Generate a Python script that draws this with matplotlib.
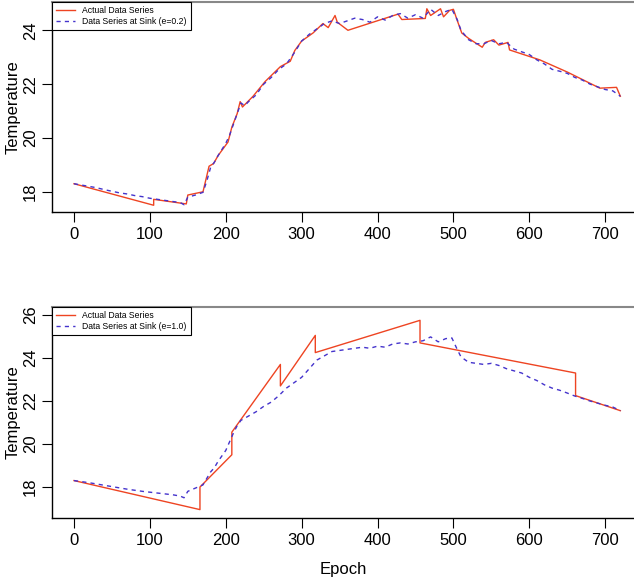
import matplotlib.pyplot as plt
import matplotlib

# R-ish look: Helvetica-like font
matplotlib.rcParams['font.family'] = 'Liberation Sans'

sink_epoch = [0, 10, 20, 30, 40, 50, 60, 70, 80, 90, 100, 110, 120, 130, 140, 145,
              150, 160, 170, 175, 180, 185, 190, 200, 205, 210, 215, 220, 225, 230,
              240, 250, 260, 270, 280, 290, 300, 310, 320, 330, 340, 350, 360, 370,
              380, 390, 400, 410, 420, 430, 440, 450, 460, 470, 480, 490, 498, 505,
              510, 520, 530, 540, 550, 560, 570, 580, 590, 600, 610, 620, 630, 640,
              650, 660, 670, 680, 690, 700, 710, 720]

# data series at sink, top panel (e=0.2)
sink1_temp = [18.30, 18.25, 18.20, 18.15, 18.08, 18.02, 17.96, 17.92, 17.86, 17.82,
              17.76, 17.72, 17.68, 17.64, 17.60, 17.52, 17.80, 17.88, 17.98, 18.40,
              18.90, 19.10, 19.35, 19.80, 20.10, 20.50, 20.90, 21.30, 21.20, 21.35,
              21.60, 22.00, 22.25, 22.55, 22.75, 23.15, 23.60, 23.85, 24.05, 24.25,
              24.35, 24.25, 24.35, 24.45, 24.40, 24.30, 24.50, 24.38, 24.55, 24.62,
              24.45, 24.58, 24.45, 24.78, 24.55, 24.70, 24.78, 24.40, 24.00, 23.65,
              23.50, 23.50, 23.62, 23.50, 23.55, 23.30, 23.20, 23.10, 22.90, 22.75,
              22.55, 22.48, 22.40, 22.25, 22.15, 22.00, 21.90, 21.80, 21.75, 21.55]

# data series at sink, bottom panel (e=1.0)
sink2_temp = [18.30, 18.25, 18.20, 18.14, 18.08, 18.02, 17.96, 17.90, 17.85, 17.80,
              17.76, 17.72, 17.68, 17.64, 17.58, 17.50, 17.80, 17.95, 18.10, 18.40,
              18.70, 18.90, 19.20, 19.70, 20.10, 20.50, 20.85, 21.10, 21.20, 21.30,
              21.50, 21.75, 21.95, 22.25, 22.60, 22.85, 23.10, 23.50, 23.90, 24.10,
              24.30, 24.35, 24.40, 24.45, 24.50, 24.45, 24.55, 24.50, 24.65, 24.70,
              24.65, 24.75, 24.80, 24.98, 24.75, 24.90, 24.93, 24.40, 24.05, 23.80,
              23.75, 23.70, 23.75, 23.65, 23.50, 23.40, 23.30, 23.10, 22.95, 22.75,
              22.60, 22.50, 22.37, 22.23, 22.12, 22.00, 21.90, 21.80, 21.72, 21.55]

# "Actual" series, top panel
act1_epoch = [0, 105, 105, 148, 150, 170, 178, 184, 190, 203, 208, 215, 219, 222,
              236, 252, 272, 285, 291, 300, 315, 328, 335, 344, 347, 361, 427, 432,
              463, 465, 470, 483, 487, 495, 500, 505, 511, 520, 538, 542, 553, 560,
              572, 574, 614, 650, 693, 715, 720]
act1_temp = [18.30, 17.50, 17.72, 17.55, 17.88, 18.00, 18.95, 19.05, 19.35, 19.85,
             20.40, 20.90, 21.35, 21.15, 21.55, 22.10, 22.65, 22.85, 23.25, 23.60,
             23.90, 24.25, 24.10, 24.55, 24.30, 24.00, 24.60, 24.40, 24.44, 24.80,
             24.55, 24.80, 24.50, 24.74, 24.78, 24.37, 23.90, 23.70, 23.37, 23.55,
             23.65, 23.45, 23.55, 23.27, 22.90, 22.45, 21.85, 21.88, 21.55]

# "Actual" series, bottom panel
act2_epoch = [0, 166, 166, 208, 208, 272, 272, 318, 318, 456, 456, 661, 661, 720]
act2_temp = [18.30, 16.95, 18.00, 19.50, 20.55, 23.70, 22.70, 25.05, 24.25, 25.75,
             24.70, 23.30, 22.25, 21.55]

panels = [
    dict(act_x=act1_epoch, act_y=act1_temp, sink_y=sink1_temp,
         label='Data Series at Sink (e=0.2)',
         ylim=(17.25, 25.05), yticks=[18, 20, 22, 24], rect=[0.082, 0.6345, 0.918, 0.362]),
    dict(act_x=act2_epoch, act_y=act2_temp, sink_y=sink2_temp,
         label='Data Series at Sink (e=1.0)',
         ylim=(16.56, 26.37), yticks=[18, 20, 22, 24, 26], rect=[0.082, 0.1069, 0.918, 0.3638]),
]

red = '#ee4422'
blue = '#4433cc'

fig = plt.figure(figsize=(6.34, 5.8), dpi=100)

for i, p in enumerate(panels):
    ax = fig.add_axes(p['rect'])
    ax.plot(p['act_x'], p['act_y'], color=red, lw=1.0, label='Actual Data Series')
    ax.plot(sink_epoch, p['sink_y'], color=blue, lw=1.0, dashes=(3, 3), label=p['label'])

    ax.set_xlim(-29, 738)
    ax.set_ylim(*p['ylim'])
    ax.set_xticks([0, 100, 200, 300, 400, 500, 600, 700])
    ax.set_yticks(p['yticks'])
    ax.tick_params(direction='out', length=7, width=0.8, labelsize=12, pad=4)
    ax.tick_params(axis='y', pad=3)
    for lab in ax.get_yticklabels():
        lab.set_rotation(90)
        lab.set_va('center')

    ax.spines['right'].set_visible(False)
    ax.spines['top'].set_color('#888888')
    ax.spines['top'].set_linewidth(1.5)
    ax.spines['left'].set_linewidth(1.0)
    ax.spines['bottom'].set_linewidth(1.0)

    ax.set_ylabel('Temperature', fontsize=12)
    ax.yaxis.set_label_coords(-0.054, 0.5)
    if i == 1:
        ax.set_xlabel('Epoch', fontsize=12, labelpad=10)

    leg = ax.legend(loc='upper left', bbox_to_anchor=(0, 1), borderaxespad=0,
                    fontsize=6.2, fancybox=False, handlelength=2.2,
                    borderpad=0.5, labelspacing=0.15, handletextpad=0.8)
    leg.get_frame().set_edgecolor('black')
    leg.get_frame().set_linewidth(0.8)
    leg.get_frame().set_alpha(1)

plt.savefig('out.png', dpi=100)
